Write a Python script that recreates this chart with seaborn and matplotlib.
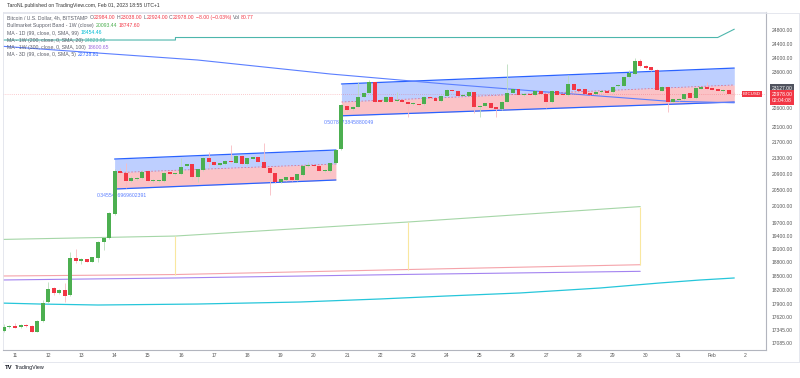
import numpy as np
import pandas as pd
import matplotlib.pyplot as plt
from matplotlib.lines import Line2D
import seaborn as sns

# ---------------- datos: velas 4h BTCUSD (Bitstamp) ----------------
candle_start = '2023-01-10 16:00'
opens = [17322, 17406, 17427, 17400, 17450, 17430, 17310, 17537, 17940, 18228,
         18120, 18191, 18084, 18891, 18830, 18869, 18815, 18905, 19270, 19354,
         19916, 20971, 20920, 20723, 20765, 20782, 20963, 20715, 20716, 20716,
         20931, 20881, 20881, 21089, 21132, 20822, 20988, 21295, 21194, 21114,
         21132, 21222, 21170, 21340, 21132, 21270, 21305, 21194, 21031, 20906,
         20683, 20740, 20807, 20740, 20864, 21089, 21106, 21089, 20955, 20955,
         21157, 21513, 22660, 22560, 22632, 22905, 23010, 23296, 22815, 22770,
         22905, 22780, 22815, 22770, 22700, 22706, 22700, 22905, 22878, 22787,
         22932, 23089, 23070, 22932, 22932, 23025, 22617, 22660, 22725, 22617,
         22572, 22770, 23010, 23103, 22948, 22985, 22940, 23055, 22985, 22760,
         23055, 22985, 22951, 23250, 23117, 23117, 23015, 22985, 23025, 23060,
         23025, 23200, 23210, 23440, 23533, 23910, 23758, 23720, 23645, 23070,
         23180, 22770, 22815, 22840, 22997, 22860, 23120, 23158, 23130, 23117,
         23062, 23089, 22984]
highs = [17468, 17455, 17490, 17460, 17470, 17445, 17550, 17976, 18372, 18250,
         18215, 18343, 19028, 19096, 18890, 18885, 18930, 19280, 19370, 19970,
         21014, 21027, 21159, 20830, 20815, 20980, 20990, 20760, 20750, 20940,
         20950, 20925, 21279, 21150, 21150, 21025, 21310, 21454, 21210, 21175,
         21240, 21625, 21360, 21360, 21300, 21320, 21320, 21678, 21045, 20925,
         20775, 20825, 20825, 20900, 21105, 21194, 21125, 21105, 21005, 21175,
         21510, 22700, 22690, 22650, 23312, 23015, 23365, 23315, 22830, 22925,
         22925, 23035, 22830, 22785, 22760, 22720, 22925, 22925, 22895, 22950,
         23105, 23105, 23085, 22970, 23045, 23045, 22680, 22745, 22745, 22635,
         22790, 23815, 23120, 23120, 23005, 23005, 23075, 23075, 23005, 23075,
         23075, 23005, 23505, 23270, 23135, 23135, 23035, 23055, 23080, 23080,
         23200, 23245, 23460, 23645, 23980, 23960, 23775, 23740, 23665, 23200,
         23200, 22855, 22860, 22990, 23015, 23150, 23175, 23320, 23150, 23135,
         23105, 23105, 23038]
lows = [17301, 17395, 17380, 17390, 17405, 17295, 17300, 17520, 17920, 18084,
        18100, 17940, 18070, 18780, 18768, 18800, 18800, 18815, 19080, 19340,
        19900, 20890, 20536, 20700, 20750, 20770, 20700, 20700, 20700, 20700,
        20865, 20870, 20870, 21075, 20740, 20690, 20975, 21070, 21100, 21100,
        21120, 21165, 21155, 21115, 21115, 21255, 21180, 21015, 20373, 20665,
        20665, 20725, 20725, 20725, 20850, 21075, 21065, 20955, 20940, 20940,
        21140, 21495, 22530, 22545, 22615, 22890, 22995, 22735, 22735, 22755,
        22755, 22765, 22735, 22366, 22685, 22665, 22685, 22845, 22770, 22770,
        22915, 23035, 22915, 22915, 22915, 22455, 22366, 22645, 22575, 22366,
        22555, 22755, 22995, 22930, 22930, 22925, 22925, 22970, 22590, 22745,
        22940, 22935, 22935, 23070, 23055, 22970, 22950, 22970, 23010, 22995,
        23010, 23185, 23195, 23420, 23515, 23740, 23675, 23625, 23070, 23055,
        22500, 22755, 22800, 22825, 22845, 22845, 23105, 23100, 23070, 23055,
        23045, 22965, 22924]
closes = [17406, 17433, 17395, 17440, 17420, 17310, 17537, 17918, 18213, 18120,
          18191, 18070, 18891, 18837, 18869, 18815, 18913, 19262, 19354, 19932,
          20971, 20906, 20723, 20782, 20797, 20946, 20723, 20740, 20733, 20921,
          20881, 20906, 21070, 21132, 20822, 21006, 21295, 21179, 21114, 21157,
          21222, 21180, 21340, 21132, 21280, 21305, 21194, 21031, 20906, 20683,
          20757, 20807, 20740, 20881, 21089, 21106, 21081, 20971, 20988, 21157,
          21495, 22679, 22545, 22632, 22905, 22997, 23296, 22752, 22752, 22905,
          22770, 22815, 22752, 22706, 22743, 22679, 22905, 22860, 22787, 22932,
          23089, 23053, 22932, 22951, 23025, 22617, 22660, 22725, 22590, 22572,
          22770, 23010, 23103, 22948, 22985, 22940, 23055, 22985, 22760, 23055,
          22958, 22951, 23250, 23089, 23070, 22985, 22965, 23035, 23060, 23010,
          23185, 23227, 23440, 23553, 23910, 23758, 23693, 23645, 23089, 23180,
          22770, 22835, 22840, 22970, 22860, 23130, 23158, 23117, 23089, 23070,
          23089, 22984, 22978]

# ---------------- indicadores ----------------
ma200w_t = ['2023-01-10 12:00', '2023-01-15 20:00', '2023-01-15 20:00', '2023-02-01 04:00', '2023-02-01 16:00']
ma200w_v = [24506, 24506, 24579, 24579, 24824]

ma3d_t = ['2023-01-10 12:00', '2023-01-13 12:00', '2023-01-16 12:00', '2023-01-20 12:00',
          '2023-01-24 00:00', '2023-01-27 10:00', '2023-01-30 14:00', '2023-02-01 16:00']
ma3d_v = [24332, 24129, 23929, 23533, 23253, 23006, 22788, 22739]

ma1d_t = ['2023-01-10 12:00', '2023-01-11 18:00', '2023-01-13 12:00', '2023-01-16 12:00',
          '2023-01-19 14:00', '2023-01-22 00:00', '2023-01-24 00:00', '2023-01-26 05:00',
          '2023-01-28 15:00', '2023-01-30 10:00', '2023-01-31 15:00', '2023-02-01 16:00']
ma1d_v = [17912, 17890, 17869, 17890, 17933, 17998, 18062, 18127, 18235, 18344, 18409, 18454]

band_t = ['2023-01-10 12:00', '2023-01-15 20:00', '2023-01-22 20:00', '2023-01-29 20:00']
band_upper = [19320, 19400, 19727, 20093]
band_lower = [18497, 18530, 18641, 18748]
ma300w_v = [18409, 18454, 18533, 18601]

# canales de regresión
ch1_t = ['2023-01-14 00:00', '2023-01-20 16:00']
ch1_upper = [21265, 21495]
ch1_mid = [20921, 21140]
ch1_lower = [20518, 20740]
ch1_r = '0.3455456969602391'

ch2_t = ['2023-01-20 20:00', '2023-02-01 16:00']
ch2_upper = [23255, 23700]
ch2_mid = [22760, 23227]
ch2_lower = [22389, 22760]
ch2_r = '0.5078473845880049'

y_ticks = [24800, 24400, 24000, 23600, 22600, 22100, 21700, 21300, 20900, 20500, 20100,
           19700, 19400, 19100, 18800, 18500, 18200, 17900, 17620, 17345, 17085]
day_ticks = pd.date_range('2023-01-11', '2023-02-02', freq='D')

# ---------------- estilo ----------------
sns.set_style('white')
plt.rcParams['font.family'] = ['Liberation Sans', 'DejaVu Sans']

GREEN = '#4caf50'
RED = '#f23645'
BLUE = '#2962ff'
GRAY = '#5d606b'
FS = 3.7

W, H = 800, 378
fig = plt.figure(figsize=(W / 100, H / 100), dpi=100)
ax = fig.add_axes([3 / W, (H - 350) / H, 763 / W, 338 / H])

t = pd.date_range(candle_start, periods=len(opens), freq='4h')
o = np.array(opens); c = np.array(closes)
hi = np.array(highs); lo = np.array(lows)
up = c >= o
body_col = np.where(up, GREEN, RED)
wick_col = np.where(up, '#b9dcbb', '#f9bcc1')

# canales
for ct, cu, cm, cl in [(ch1_t, ch1_upper, ch1_mid, ch1_lower), (ch2_t, ch2_upper, ch2_mid, ch2_lower)]:
    ct = pd.to_datetime(ct)
    ax.fill_between(ct, cm, cu, color=BLUE, alpha=0.3, lw=0, zorder=1)
    ax.fill_between(ct, cl, cm, color=RED, alpha=0.3, lw=0, zorder=1)
    ax.plot(ct, cu, color=BLUE, lw=0.9, zorder=2)
    ax.plot(ct, cl, color=BLUE, lw=0.9, zorder=2)
    ax.plot(ct, cm, color=RED, lw=0.6, ls=(0, (2, 2)), alpha=0.6, zorder=2)

# etiquetas de Pearson
ax.annotate(ch1_r, xy=(pd.Timestamp(ch1_t[0]), ch1_lower[0]), xytext=(5, -3),
            textcoords='offset points', ha='center', va='top', fontsize=FS,
            color='#5b7fff', zorder=2.5)
ax.annotate(ch2_r, xy=(pd.Timestamp(ch2_t[0]), ch2_lower[0]), xytext=(5, -3),
            textcoords='offset points', ha='center', va='top', fontsize=FS,
            color='#5b7fff', zorder=2.5)

# medias y bandas
bt = pd.to_datetime(band_t)
sns.lineplot(x=pd.to_datetime(ma200w_t), y=ma200w_v, ax=ax, color='#4db6ac', lw=0.8,
             estimator=None, sort=False, zorder=2)
sns.lineplot(x=pd.to_datetime(ma3d_t), y=ma3d_v, ax=ax, color='#5b7fff', lw=0.8,
             estimator=None, sort=False, zorder=2)
sns.lineplot(x=pd.to_datetime(ma1d_t), y=ma1d_v, ax=ax, color='#26c6da', lw=0.9,
             estimator=None, sort=False, zorder=2)
sns.lineplot(x=bt, y=band_upper, ax=ax, color='#a5d6a7', lw=0.8, estimator=None, zorder=2)
sns.lineplot(x=bt, y=band_lower, ax=ax, color='#f5a3aa', lw=0.8, estimator=None, zorder=2)
sns.lineplot(x=bt, y=ma300w_v, ax=ax, color='#a383f0', lw=0.8, estimator=None, zorder=2)
ax.vlines(bt[1:], band_lower[1:], band_upper[1:], color='#f9e79f', lw=0.8, zorder=2)

# línea de precio actual
ax.axhline(closes[-1], color=RED, lw=0.5, ls=(0, (1, 2)), alpha=0.5, zorder=2)

# velas
ax.vlines(t, lo, hi, colors=wick_col, lw=0.6, zorder=3)
ax.bar(t, np.abs(c - o), bottom=np.minimum(o, c), width=0.12, color=body_col, lw=0, zorder=4)

# ejes
ax.set_yscale('log')
ax.set_ylim(16936, 25338)
t0 = pd.Timestamp(candle_start)
ax.set_xlim(t0 + pd.Timedelta(hours=4 * (3 - 3.93) / 5.533),
            t0 + pd.Timedelta(hours=4 * (766 - 3.93) / 5.533))
ax.set_xlabel('')
ax.set_ylabel('')

ax.yaxis.tick_right()
ax.set_yticks(y_ticks)
ax.set_yticklabels([f'{v:.2f}' for v in y_ticks])
ax.yaxis.set_minor_locator(plt.NullLocator())
ax.tick_params(axis='y', length=0, pad=4, labelsize=3.6, labelcolor='#555555')
ax.set_xticks(day_ticks)
ax.set_xticklabels(['Feb' if (d.month == 2 and d.day == 1) else str(d.day) for d in day_ticks])
ax.tick_params(axis='x', length=0, pad=2.5, labelsize=3.6, labelcolor='#555555')

for s in ['top', 'left']:
    ax.spines[s].set_color('#e0e3eb')
    ax.spines[s].set_linewidth(0.6)
for s in ['bottom', 'right']:
    ax.spines[s].set_color('#b2b5be')
    ax.spines[s].set_linewidth(0.8)

# etiquetas de la escala de precios
yax = ax.get_yaxis_transform()
ax.annotate('23127.00', xy=(1.021, 23127), xycoords=yax, ha='center', va='center',
            fontsize=3.6, color='white', annotation_clip=False,
            bbox=dict(boxstyle='square,pad=0.35', fc='#50535e', ec='none'))
ax.annotate(f'{closes[-1]:.2f}\n02:04:08', xy=(1.021, closes[-1]), xycoords=yax,
            xytext=(0, -2.5), textcoords='offset points', ha='center', va='center',
            fontsize=3.6, color='white', linespacing=1.2, annotation_clip=False,
            bbox=dict(boxstyle='square,pad=0.35', fc=RED, ec='none'))
ax.annotate('BTCUSD', xy=((752 - 3) / 763, closes[-1]), xycoords=yax, ha='center',
            va='center', fontsize=3.2, color='white', annotation_clip=False,
            bbox=dict(boxstyle='square,pad=0.3', fc=RED, ec='none'))

# marco exterior
for (x0, y0, x1, y1) in [(3, 12.5, 799, 12.5), (799, 12.5, 799, 362), (3, 362, 799, 362)]:
    fig.add_artist(Line2D([x0 / W, x1 / W], [1 - y0 / H, 1 - y1 / H], color='#e0e3eb', lw=0.6))

# textos de cabecera
fig.text(7 / W, 1 - 5 / H, 'TaroNL published on TradingView.com, Feb 01, 2023 18:55 UTC+1',
         fontsize=FS, color='#333333', va='center')

rend = fig.canvas.get_renderer()


def put_row(y_px, parts):
    x = 7
    for txt, col, gap in parts:
        tx = fig.text(x / W, 1 - y_px / H, txt, color=col, fontsize=FS, va='center', ha='left')
        x = tx.get_window_extent(renderer=rend).x1 + gap


put_row(17.7, [('Bitcoin / U.S. Dollar, 4h, BITSTAMP', GRAY, 2.2), ('O', GRAY, 0.3),
               ('22984.00', RED, 1.2), ('H', GRAY, 0.3), ('23038.00', RED, 1.2),
               ('L', GRAY, 0.3), ('22924.00', RED, 1.2), ('C', GRAY, 0.3),
               ('22978.00', RED, 1.5), ('\u22128.00 (\u22120.03%)', RED, 1.5),
               ('Vol', GRAY, 0.3), ('80.77', RED, 0)])
put_row(25.7, [('Bullmarket Support Band - 1W (close)', GRAY, 2.2), ('20093.44', GREEN, 1.5),
               ('18747.60', RED, 0)])
put_row(33.0, [('MA - 1D (99, close, 0, SMA, 99)', GRAY, 2.2), ('18454.46', '#00bcd4', 0)])
put_row(40.3, [('MA - 1W (200, close, 0, SMA, 20)', GRAY, 2.2), ('24823.96', '#4db6ac', 0)])
put_row(47.7, [('MA - 1W (300, close, 0, SMA, 100)', GRAY, 2.2), ('18600.65', '#9c6ade', 0)])
put_row(54.6, [('MA - 3D (99, close, 0, SMA, 5)', GRAY, 2.2), ('22738.81', BLUE, 0)])

# logo inferior
fig.text(5 / W, 1 - 367.5 / H, 'TV', fontsize=4.3, fontweight='bold', color='#131722', va='center')
fig.text(15 / W, 1 - 367.5 / H, 'TradingView', fontsize=3.9, color='#131722', va='center')

fig.savefig('out.png', dpi=100, facecolor='white')
